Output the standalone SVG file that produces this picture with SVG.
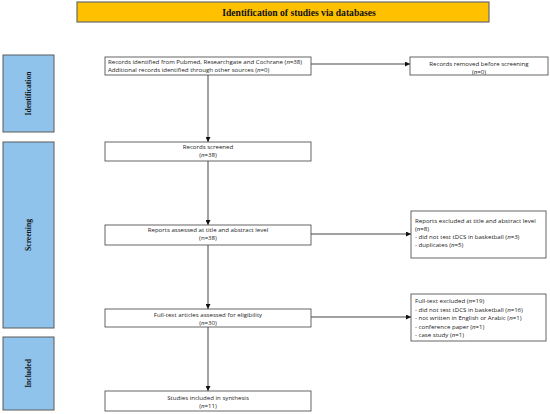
<svg xmlns="http://www.w3.org/2000/svg" width="550" height="414" viewBox="0 0 550 414">
<style>
.box{fill:#fff;stroke:#555;stroke-width:0.9}
.side{fill:#8fc3ec;stroke:#5a5a5a;stroke-width:1}
.ban{fill:#ffc000;stroke:#6a6a6a;stroke-width:1.2}
.t{font-family:"Open Sans","Liberation Sans",sans-serif;font-size:6.1px;fill:#222}
.c{text-anchor:middle}
.s{font-family:"Liberation Serif",serif;font-weight:bold;font-size:7.6px;fill:#111;text-anchor:middle}
.ttl{font-family:"Liberation Serif",serif;font-weight:bold;font-size:9.6px;fill:#111;text-anchor:middle}
.ln{stroke:#444;stroke-width:1;fill:none}
</style>
<defs>
<marker id="ah" viewBox="0 0 10 10" refX="10" refY="5" markerWidth="5" markerHeight="5" orient="auto" markerUnits="userSpaceOnUse">
<path d="M0,0 L10,5 L0,10 z" fill="#111"/>
</marker>
</defs>
<g id="banner">
<rect class="ban" x="77" y="2" width="412" height="20"/>
<text class="ttl" x="299" y="15.5">Identification of studies via databases</text>
</g>
<g id="side-identification">
<rect class="side" x="3" y="55" width="51" height="77"/>
<text class="s" transform="translate(31,93.5) rotate(-90)">Identification</text>
</g>
<g id="side-screening">
<rect class="side" x="3" y="142" width="51" height="186"/>
<text class="s" transform="translate(31,235) rotate(-90)">Screening</text>
</g>
<g id="side-included">
<rect class="side" x="3" y="337" width="51" height="73"/>
<text class="s" transform="translate(31,373.5) rotate(-90)">Included</text>
</g>
<g id="connectors">
<line class="ln" x1="208" y1="75" x2="208" y2="142" marker-end="url(#ah)"/>
<line class="ln" x1="208" y1="161" x2="208" y2="225" marker-end="url(#ah)"/>
<line class="ln" x1="208" y1="245" x2="208" y2="309" marker-end="url(#ah)"/>
<line class="ln" x1="208" y1="327" x2="208" y2="391" marker-end="url(#ah)"/>
<line class="ln" x1="311" y1="64" x2="410" y2="64" marker-end="url(#ah)"/>
<line class="ln" x1="311" y1="234" x2="411" y2="234" marker-end="url(#ah)"/>
<line class="ln" x1="311" y1="317" x2="411" y2="317" marker-end="url(#ah)"/>
</g>
<g id="records-identified">
<rect class="box" x="105" y="57" width="206" height="18"/>
<text class="t" x="108" y="63.5">Records identified from Pubmed, Researchgate and Cochrane (<tspan font-style="italic">n</tspan>=38)</text>
<text class="t" x="108" y="71.5">Additional records identified through other sources (<tspan font-style="italic">n</tspan>=0)</text>
</g>
<g id="records-removed">
<rect class="box" x="410" y="57" width="138" height="18"/>
<text class="t c" x="479" y="65.5">Records removed before screening</text>
<text class="t c" x="479" y="73.5">(<tspan font-style="italic">n</tspan>=0)</text>
</g>
<g id="records-screened">
<rect class="box" x="105" y="142" width="206" height="19"/>
<text class="t c" x="208" y="148.5">Records screened</text>
<text class="t c" x="208" y="156.5">(<tspan font-style="italic">n</tspan>=38)</text>
</g>
<g id="reports-assessed">
<rect class="box" x="105" y="225" width="206" height="20"/>
<text class="t c" x="208" y="232">Reports assessed at title and abstract level</text>
<text class="t c" x="208" y="240">(n=38)</text>
</g>
<g id="reports-excluded">
<rect class="box" x="411" y="211" width="135" height="47"/>
<text class="t" x="415" y="223">Reports excluded at title and abstract level</text>
<text class="t" x="415" y="231">(<tspan font-style="italic">n</tspan>=8)</text>
<text class="t" x="415" y="239">- did not test tDCS in basketball (<tspan font-style="italic">n</tspan>=3)</text>
<text class="t" x="415" y="247">- duplicates (<tspan font-style="italic">n</tspan>=5)</text>
</g>
<g id="fulltext-assessed">
<rect class="box" x="105" y="309" width="206" height="18"/>
<text class="t c" x="208" y="317">Full-text articles assessed for eligibility</text>
<text class="t c" x="208" y="324.5" font-size="5.4">(<tspan font-style="italic">n</tspan>=30)</text>
</g>
<g id="fulltext-excluded">
<rect class="box" x="411" y="294" width="135" height="47"/>
<text class="t" x="415" y="303">Full-text excluded (<tspan font-style="italic">n</tspan>=19)</text>
<text class="t" x="415" y="311.5">- did not test tDCS in basketball (<tspan font-style="italic">n</tspan>=16)</text>
<text class="t" x="415" y="320">- not written in English or Arabic (<tspan font-style="italic">n</tspan>=1)</text>
<text class="t" x="415" y="328.5">- conference paper (<tspan font-style="italic">n</tspan>=1)</text>
<text class="t" x="415" y="337">- case study (<tspan font-style="italic">n</tspan>=1)</text>
</g>
<g id="studies-included">
<rect class="box" x="105" y="391" width="206" height="20"/>
<text class="t c" x="208" y="399.5">Studies included in synthesis</text>
<text class="t c" x="208" y="407.5">(<tspan font-style="italic">n</tspan>=11)</text>
</g>
</svg>
